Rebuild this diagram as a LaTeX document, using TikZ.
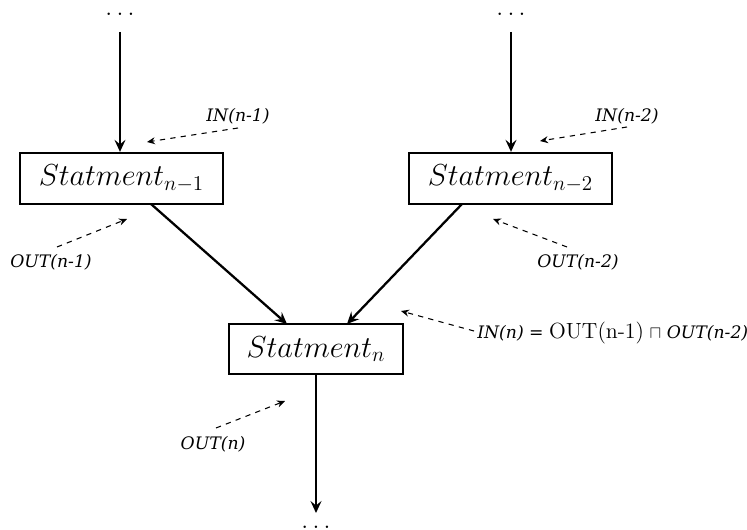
\documentclass[tikz,border=0pt]{standalone}
\usepackage{fontspec}
\newfontfamily\lblfont{DejaVu Serif}
\usetikzlibrary{arrows.meta}
\begin{document}
\begin{tikzpicture}[x=0.02cm,y=-0.02cm,
  stmt/.style={draw,line width=1.3pt,inner sep=0pt,font=\LARGE},
  flow/.style={line width=1.3pt,-{Stealth[length=2.4mm,width=2.2mm,inset=0.9mm]}},
  note/.style={dashed,line width=0.6pt,-{Stealth[length=1.6mm,width=1.4mm]}},
  lbl/.style={font=\lblfont\itshape\fontsize{9.8}{12}\selectfont,inner sep=0pt},
  dots/.style={font=\Large,inner sep=0pt,text height=0.3ex,text depth=0pt,anchor=base}]
\useasboundingbox (0,0) rectangle (747,530);
% statement boxes
\node[stmt,minimum width=203*0.02cm,minimum height=51*0.02cm] (s1) at (121.5,178.5) {$Statment_{n-1}$};
\node[stmt,minimum width=203*0.02cm,minimum height=51*0.02cm] (s2) at (510.5,178.5) {$Statment_{n-2}$};
\node[stmt,minimum width=174*0.02cm,minimum height=50*0.02cm] (s3) at (316,349) {$Statment_{n}$};
% dots
\node[dots] (d1) at (120,16) {$\dots$};
\node[dots] (d2) at (511,16) {$\dots$};
\node[dots] (d3) at (316,528) {$\dots$};
\coordinate (t1) at (120,32);
\coordinate (t2) at (511,32);
\coordinate (b3) at (316,513);
% flow arrows
\draw[flow] (t1) -- (t1 |- s1.north);
\draw[flow] (t2) -- (t2 |- s2.north);
\draw[flow] (151,204) -- (287,324);
\draw[flow] (462,204) -- (347,324);
\draw[flow] (s3.south) -- (b3);
% labels
\node[lbl] (in1) at (238,116) {IN(n-1)};
\node[lbl] (in2) at (627,116) {IN(n-2)};
\node[lbl] (out1) at (51,262) {OUT(n-1)};
\node[lbl] (out2) at (578,262) {OUT(n-2)};
\node[lbl] (outn) at (213,444) {OUT(n)};
\node[lbl,anchor=west] (inn) at (477,333) {IN(n) \upshape= {\rmfamily\fontsize{12.5}{15}\selectfont OUT(n-1)} $\sqcap$ \itshape OUT(n-2)};
\coordinate (p1) at (147,142);
\coordinate (p2) at (540,141);
\coordinate (p3) at (127,219);
\coordinate (p4) at (493,219);
\coordinate (p5) at (285,401);
\coordinate (p6) at (401,311);
\draw[note] (238,128) -- (p1);
\draw[note] (627,127) -- (p2);
\draw[note] (57,247) -- (p3);
\draw[note] (567,247) -- (p4);
\draw[note] (216,428) -- (p5);
\draw[note] (474,331) -- (p6);
\end{tikzpicture}
\end{document}
